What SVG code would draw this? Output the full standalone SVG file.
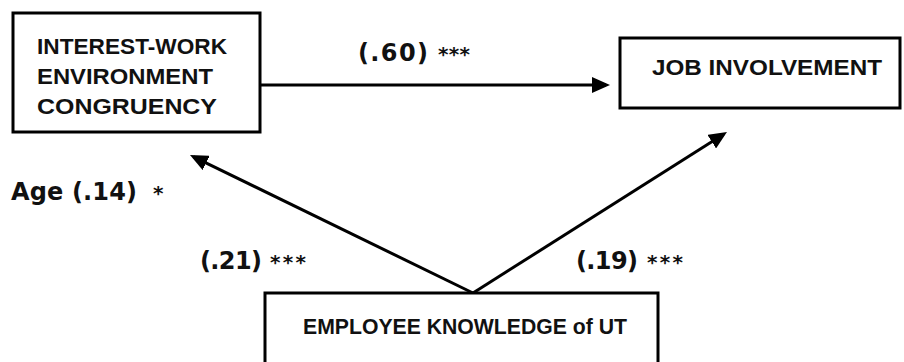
<svg xmlns="http://www.w3.org/2000/svg" width="904" height="362" viewBox="0 0 904 362">
<style>
.box{fill:#fff;stroke:#000;stroke-width:3}
.bt{font-family:"Liberation Sans",Arial,sans-serif;font-weight:bold;font-size:22px;fill:#111}
.lb{font-family:"DejaVu Sans",Verdana,sans-serif;font-weight:bold;font-size:24px;fill:#111}
.st{font-family:"DejaVu Sans",Verdana,sans-serif;font-weight:bold;font-size:20px;fill:#111}
.c{stroke:#000;stroke-width:3;fill:none;marker-end:url(#ah)}
</style>
<defs>
<marker id="ah" markerUnits="userSpaceOnUse" markerWidth="18" markerHeight="16" refX="14" refY="8" orient="auto" viewBox="0 0 18 16"><path d="M0,0 L18,8 L0,16 Z" fill="#000"/></marker>
</defs>
<g id="connectors">
<path class="c" d="M260,85 L606,85"/>
<path class="c" d="M473,293 L193.6,156.8"/>
<path class="c" d="M473,293 L723.6,134.2"/>
</g>
<g id="node-interest">
<rect class="box" x="13" y="13" width="247" height="119"/>
<text class="bt" x="37" y="54" textLength="190" lengthAdjust="spacingAndGlyphs">INTEREST-WORK</text>
<text class="bt" x="37" y="84" textLength="176" lengthAdjust="spacingAndGlyphs">ENVIRONMENT</text>
<text class="bt" x="37" y="114" textLength="180" lengthAdjust="spacingAndGlyphs">CONGRUENCY</text>
</g>
<g id="node-job">
<rect class="box" x="620" y="38" width="280" height="70"/>
<text class="bt" x="652" y="75" textLength="230" lengthAdjust="spacingAndGlyphs">JOB INVOLVEMENT</text>
</g>
<g id="node-employee">
<rect class="box" x="265" y="293" width="393" height="80"/>
<text class="bt" x="303" y="334" textLength="324" lengthAdjust="spacingAndGlyphs">EMPLOYEE KNOWLEDGE of UT</text>
</g>
<g id="labels">
<text class="lb" x="358" y="61" textLength="70" lengthAdjust="spacing">(.60)</text>
<text class="st" x="438" y="61" textLength="32" lengthAdjust="spacing">***</text>
<text class="lb" x="200" y="269" textLength="62" lengthAdjust="spacing">(.21)</text>
<text class="st" x="270" y="269" textLength="36" lengthAdjust="spacing">***</text>
<text class="lb" x="576" y="269" textLength="62" lengthAdjust="spacing">(.19)</text>
<text class="st" x="647" y="269" textLength="36" lengthAdjust="spacing">***</text>
<text class="lb" x="11" y="200" textLength="126" lengthAdjust="spacing">Age (.14)</text>
<text class="st" x="153" y="200">*</text>
</g>
</svg>
